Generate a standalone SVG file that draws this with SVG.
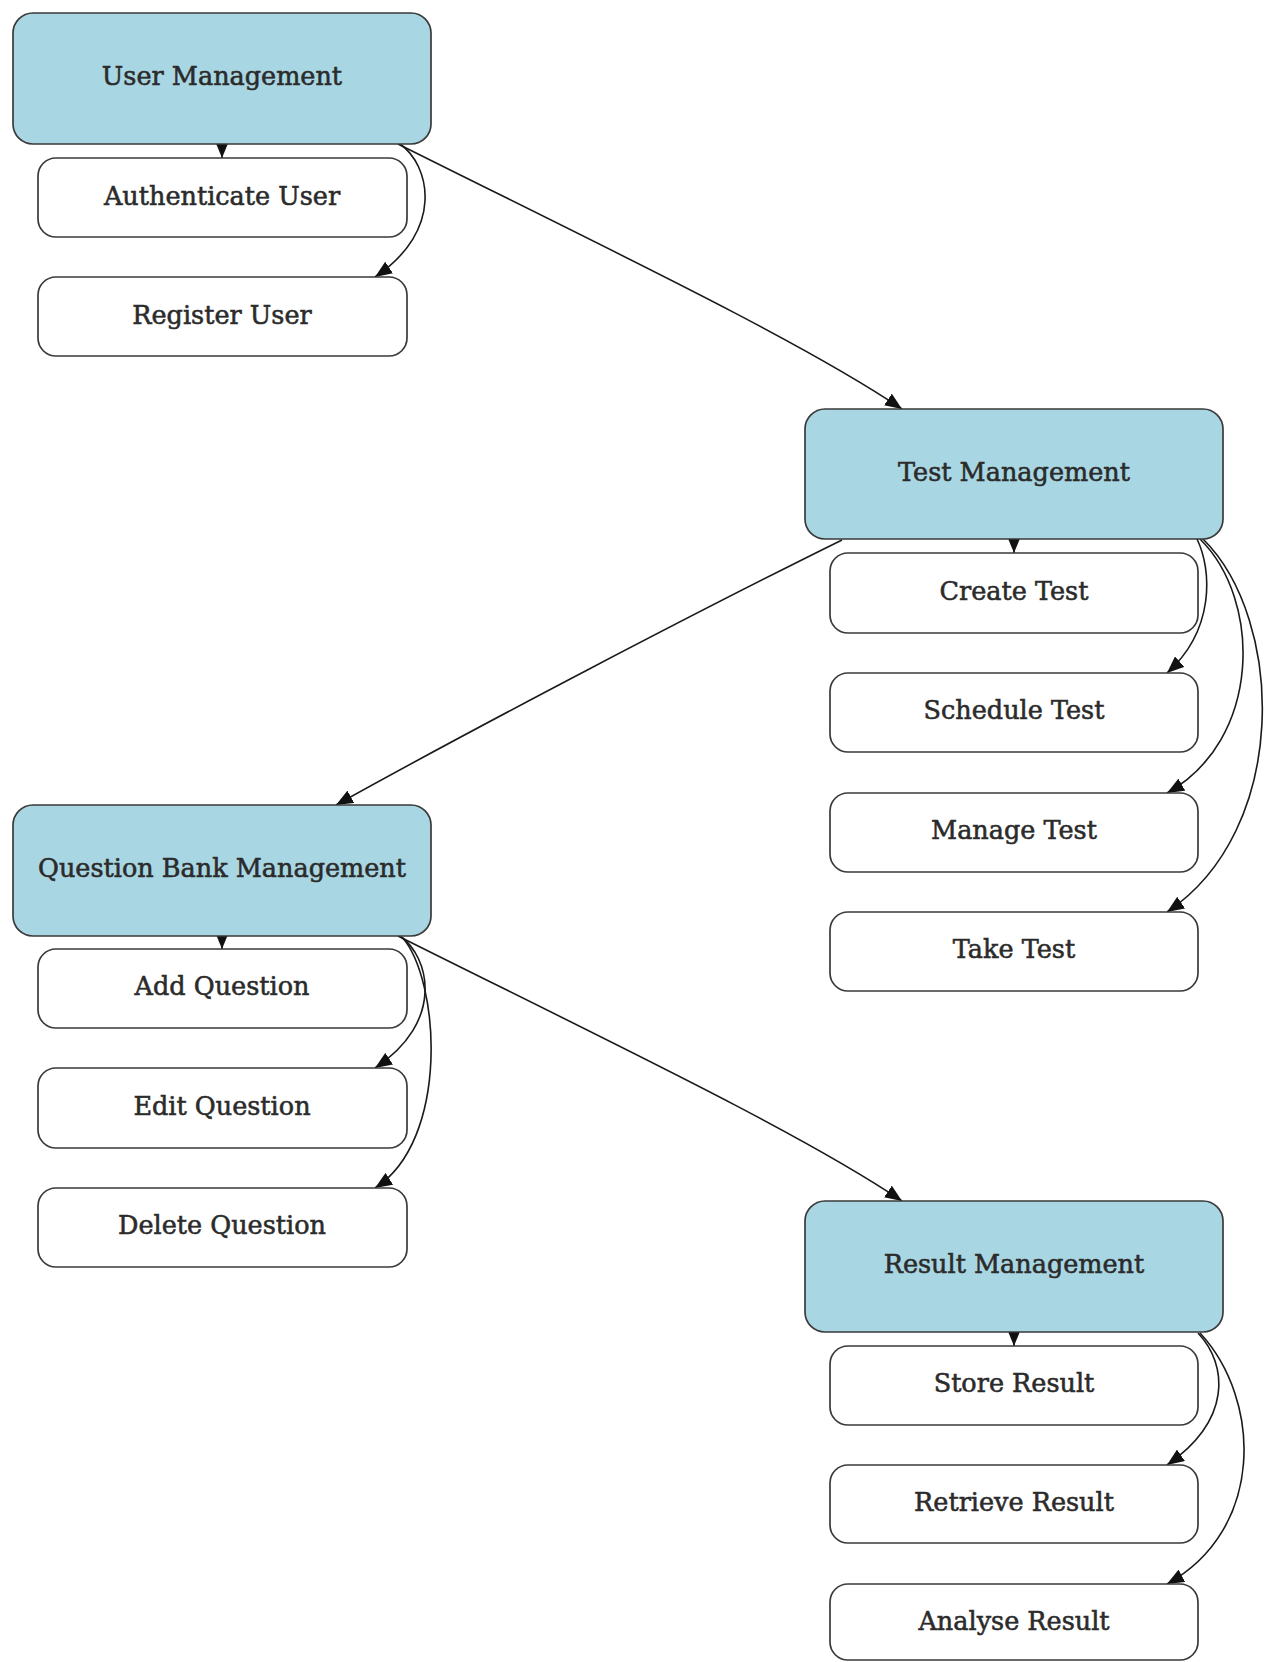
<svg xmlns="http://www.w3.org/2000/svg" width="1271" height="1662" viewBox="0 0 1271 1662">
<style>
.main rect{fill:#a9d6e3;stroke:#3a3a3a;stroke-width:1.7}
.sub rect{fill:#ffffff;stroke:#3a3a3a;stroke-width:1.7}
text{font-family:"DejaVu Serif","Liberation Serif",serif;fill:#2b2b2b;stroke:#2b2b2b;stroke-width:0.55;text-anchor:middle;font-size:25.5px}
.edges path{fill:none;stroke:#1a1a1a;stroke-width:1.6;marker-end:url(#arr)}
</style>
<defs>
<marker id="arr" markerUnits="userSpaceOnUse" markerWidth="18" markerHeight="14" refX="17" refY="7" orient="auto">
<path d="M0,0 L17,7 L0,14 z" fill="#111"/>
</marker>
</defs>
<rect width="1271" height="1662" fill="#ffffff"/>
<g class="edges">
<path d="M222,141 L222,158"/>
<path d="M400,144 C430,165 445,230 375,277"/>
<path d="M398,144 C600,245 800,340 902,409"/>
<path d="M1014,537 L1014,553"/>
<path d="M1197,539 C1212,570 1215,630 1167,673"/>
<path d="M1200,539 C1262,600 1262,740 1167,793"/>
<path d="M1203,539 C1285,620 1290,830 1167,912"/>
<path d="M842,540 C700,610 480,725 336,805"/>
<path d="M222,933 L222,949"/>
<path d="M400,936 C430,957 445,1022 375,1068"/>
<path d="M402,937 C440,980 450,1140 375,1188"/>
<path d="M398,936 C600,1037 800,1132 902,1201"/>
<path d="M1014,1329 L1014,1346"/>
<path d="M1198,1333 C1228,1365 1232,1420 1167,1465"/>
<path d="M1200,1333 C1262,1400 1265,1530 1167,1584"/>
</g>
<g id="user-management" class="main"><rect x="13" y="13" width="418" height="131" rx="20"/><text x="222" y="85">User Management</text></g>
<g id="authenticate-user" class="sub"><rect x="38" y="158" width="369" height="79" rx="18"/><text x="222" y="205">Authenticate User</text></g>
<g id="register-user" class="sub"><rect x="38" y="277" width="369" height="79" rx="18"/><text x="222" y="324">Register User</text></g>
<g id="test-management" class="main"><rect x="805" y="409" width="418" height="130" rx="20"/><text x="1014" y="481">Test Management</text></g>
<g id="create-test" class="sub"><rect x="830" y="553" width="368" height="80" rx="18"/><text x="1014" y="600">Create Test</text></g>
<g id="schedule-test" class="sub"><rect x="830" y="673" width="368" height="79" rx="18"/><text x="1014" y="719">Schedule Test</text></g>
<g id="manage-test" class="sub"><rect x="830" y="793" width="368" height="79" rx="18"/><text x="1014" y="839">Manage Test</text></g>
<g id="take-test" class="sub"><rect x="830" y="912" width="368" height="79" rx="18"/><text x="1014" y="958">Take Test</text></g>
<g id="question-bank-management" class="main"><rect x="13" y="805" width="418" height="131" rx="20"/><text x="222" y="877">Question Bank Management</text></g>
<g id="add-question" class="sub"><rect x="38" y="949" width="369" height="79" rx="18"/><text x="222" y="995">Add Question</text></g>
<g id="edit-question" class="sub"><rect x="38" y="1068" width="369" height="80" rx="18"/><text x="222" y="1115">Edit Question</text></g>
<g id="delete-question" class="sub"><rect x="38" y="1188" width="369" height="79" rx="18"/><text x="222" y="1234">Delete Question</text></g>
<g id="result-management" class="main"><rect x="805" y="1201" width="418" height="131" rx="20"/><text x="1014" y="1273">Result Management</text></g>
<g id="store-result" class="sub"><rect x="830" y="1346" width="368" height="79" rx="18"/><text x="1014" y="1392">Store Result</text></g>
<g id="retrieve-result" class="sub"><rect x="830" y="1465" width="368" height="78" rx="18"/><text x="1014" y="1511">Retrieve Result</text></g>
<g id="analyse-result" class="sub"><rect x="830" y="1584" width="368" height="76" rx="18"/><text x="1014" y="1630">Analyse Result</text></g>
</svg>
